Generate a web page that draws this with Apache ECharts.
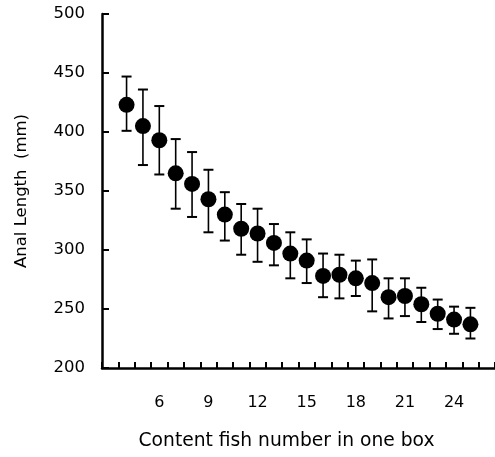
<!DOCTYPE html>
<html>
<head>
<meta charset="utf-8">
<script src="https://cdn.jsdelivr.net/npm/echarts@6/dist/echarts.min.js"></script>
<style>
  html, body { margin: 0; padding: 0; background: #fff; }
  #chart { width: 495px; height: 457px; }
</style>
</head>
<body>
<div id="chart"></div>
<script>
// Number of fish held in one box (category axis, one band per fish count)
const categories = ['3','4','5','6','7','8','9','10','11','12','13','14','15',
  '16','17','18','19','20','21','22','23','24','25','26'];
const xTickLabels = ['6','9','12','15','18','21','24'];

// Observed fish counts and anal length (mm): mean with upper / lower bar ends
const fishCounts = ['4','5','6','7','8','9','10','11','12','13','14','15',
  '16','17','18','19','20','21','22','23','24','25'];
const meanLength = [423, 405, 393, 365, 356, 343, 330, 318, 314, 306, 297, 291,
  278, 279, 276, 272, 260, 261, 254, 246, 241, 237];
const upperLength = [447, 436, 422, 394, 383, 368, 349, 339, 335, 322, 315, 309,
  297, 296, 291, 292, 276, 276, 268, 258, 252, 251];
const lowerLength = [401, 372, 364, 335, 328, 315, 308, 296, 290, 287, 276, 272,
  260, 259, 261, 248, 242, 244, 239, 233, 229, 225];

const yMin = 200, yMax = 500, yStep = 50;

const meanData = fishCounts.map((c, i) => [c, meanLength[i]]);
const barData = fishCounts.map((c, i) => [c, lowerLength[i], upperLength[i]]);

const font = "'DejaVu Sans', Arial, sans-serif";
const chart = echarts.init(document.getElementById('chart'), null, { renderer: 'canvas' });

chart.setOption({
  animation: false,
  backgroundColor: '#ffffff',
  grid: { left: 102, top: 14, width: 394, bottom: 89, containLabel: false },
  xAxis: {
    type: 'category',
    data: categories,
    boundaryGap: true,
    name: 'Content fish number in one box',
    nameLocation: 'middle',
    nameGap: 64,
    nameTextStyle: { color: '#000', fontFamily: font, fontSize: 18.7, padding: [0, 24, 0, 0] },
    axisLine: { show: true, onZero: false, lineStyle: { color: '#000', width: 2.5 } },
    axisTick: { show: true, inside: true, length: 6, interval: 0, lineStyle: { color: '#000', width: 2 } },
    axisLabel: {
      show: true,
      interval: (index, value) => xTickLabels.includes(value),
      color: '#000', fontFamily: font, fontSize: 16, margin: 27
    },
    splitLine: { show: false }
  },
  yAxis: {
    type: 'value',
    min: yMin, max: yMax, interval: yStep,
    name: 'Anal Length  (mm)',
    nameLocation: 'middle',
    nameGap: 72,
    nameTextStyle: { color: '#000', fontFamily: font, fontSize: 16.5 },
    axisLine: { show: true, lineStyle: { color: '#000', width: 2.5 } },
    axisTick: { show: true, inside: true, length: 7, lineStyle: { color: '#000', width: 2 } },
    axisLabel: { color: '#000', fontFamily: font, fontSize: 16.5, margin: 17 },
    splitLine: { show: false }
  },
  series: [
    {
      // error bars: vertical whisker with end caps
      type: 'custom',
      data: barData,
      z: 2,
      renderItem: function (params, api) {
        const lo = api.coord([api.value(0), api.value(1)]);
        const hi = api.coord([api.value(0), api.value(2)]);
        const cap = 5;
        const style = { stroke: '#000', lineWidth: 1.6 };
        const capStyle = { stroke: '#000', lineWidth: 2 };
        return {
          type: 'group',
          children: [
            { type: 'line', shape: { x1: hi[0], y1: hi[1], x2: lo[0], y2: lo[1] }, style: style },
            { type: 'line', shape: { x1: hi[0] - cap, y1: hi[1], x2: hi[0] + cap, y2: hi[1] }, style: capStyle },
            { type: 'line', shape: { x1: lo[0] - cap, y1: lo[1], x2: lo[0] + cap, y2: lo[1] }, style: capStyle }
          ]
        };
      }
    },
    {
      type: 'scatter',
      data: meanData,
      symbol: 'circle',
      symbolSize: 16,
      z: 3,
      itemStyle: { color: '#000', opacity: 1 }
    }
  ]
});
</script>
</body>
</html>
